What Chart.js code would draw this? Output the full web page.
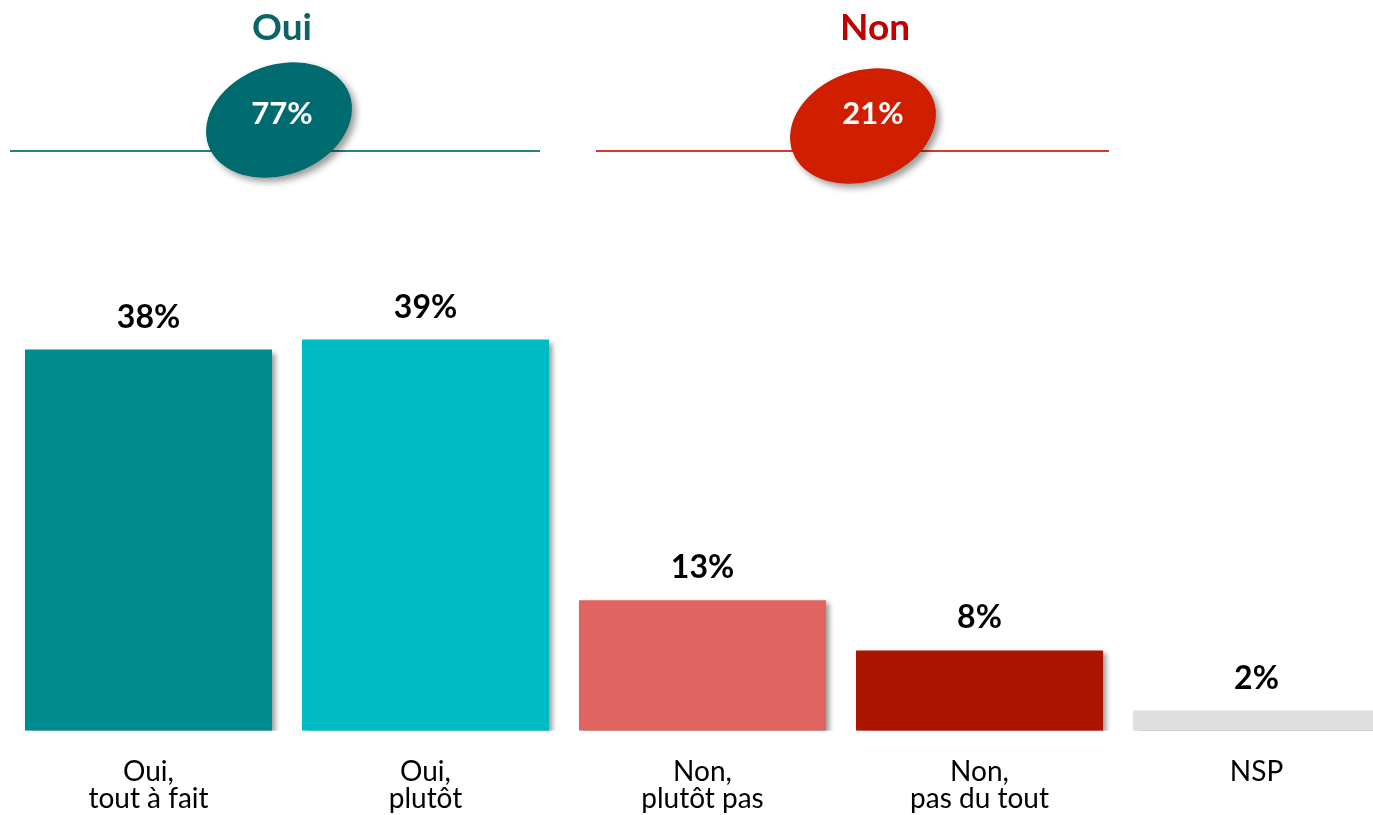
<!DOCTYPE html>
<html><head><meta charset="utf-8">
<script src="https://cdn.jsdelivr.net/npm/chart.js@4/dist/chart.umd.min.js"></script>
<style>html,body{margin:0;padding:0;background:#fff;overflow:hidden;width:1373px;height:815px}canvas{display:block}</style>
</head><body>
<canvas id="c" width="1400" height="841"></canvas>
<script>
const categories = [["Oui,","tout à fait"],["Oui,","plutôt"],["Non,","plutôt pas"],["Non,","pas du tout"],["NSP"]];
const values = [38, 39, 13, 8, 2];
const barColors = ["#008b8f","#00bac4","#e06560","#ab1500","#dfdfdf"];
const groupNames = ["Oui","Non"];
const groupTotals = [77, 21];
const groupColors = ["#0b6466","#c00000"];
const ellipseColors = ["#006b6e","#d01f00"];
const lineColors = ["#2a7f80","#d8392e"];

const shadowPlugin = {
  id:'shadow',
  beforeDatasetsDraw(chart){const c=chart.ctx;c.save();c.shadowColor='rgba(0,0,0,0.38)';c.shadowBlur=5;c.shadowOffsetX=4;c.shadowOffsetY=3;},
  afterDatasetsDraw(chart){
    const c=chart.ctx;c.restore();
    const meta=chart.getDatasetMeta(0);
    c.save();c.fillStyle='#000';c.font='bold 32px Lato';c.textAlign='center';c.textBaseline='alphabetic';
    meta.data.forEach((b,i)=>{c.fillText(values[i]+'%',b.x,b.y-22);});
    c.restore();
  }
};
const headerPlugin = {
  id:'header',
  afterDraw(chart){
    const c=chart.ctx;
    const groups=[
      {title:282, line:[10,540], ex:279, ey:120, tx:282},
      {title:875, line:[596,1109], ex:863, ey:126, tx:873}
    ];
    groups.forEach((g,i)=>{
      c.save();
      c.strokeStyle=lineColors[i];c.lineWidth=2;
      c.beginPath();c.moveTo(g.line[0],151);c.lineTo(g.line[1],151);c.stroke();
      c.fillStyle=groupColors[i];c.font='bold 37px Lato';c.textAlign='center';c.textBaseline='alphabetic';
      c.fillText(groupNames[i],g.title,40);
      c.shadowColor='rgba(0,0,0,0.4)';c.shadowBlur=7;c.shadowOffsetX=4;c.shadowOffsetY=4;
      c.fillStyle=ellipseColors[i];
      c.beginPath();c.ellipse(g.ex,g.ey,75,55,-20*Math.PI/180,0,Math.PI*2);c.fill();
      c.shadowColor='transparent';
      c.fillStyle='#fff';c.font='bold 31px Lato';
      c.fillText(groupTotals[i]+'%',g.tx,124);
      c.restore();
    });
  }
};

new Chart(document.getElementById('c'),{
  type:'bar',
  data:{labels:categories,datasets:[{data:values,backgroundColor:barColors,borderWidth:0,barPercentage:0.892,categoryPercentage:1}]},
  options:{
    responsive:false,animation:false,
    layout:{padding:{left:10,right:5,top:129,bottom:0}},
    plugins:{legend:{display:false},tooltip:{enabled:false}},
    scales:{
      x:{grid:{display:false,drawTicks:false},border:{display:false},
         ticks:{color:'#000',font:{family:'Lato',size:28,lineHeight:0.97},padding:28,maxRotation:0,autoSkip:false}},
      y:{display:false,min:0,max:60}
    }
  },
  plugins:[shadowPlugin,headerPlugin]
});
</script>
</body></html>
